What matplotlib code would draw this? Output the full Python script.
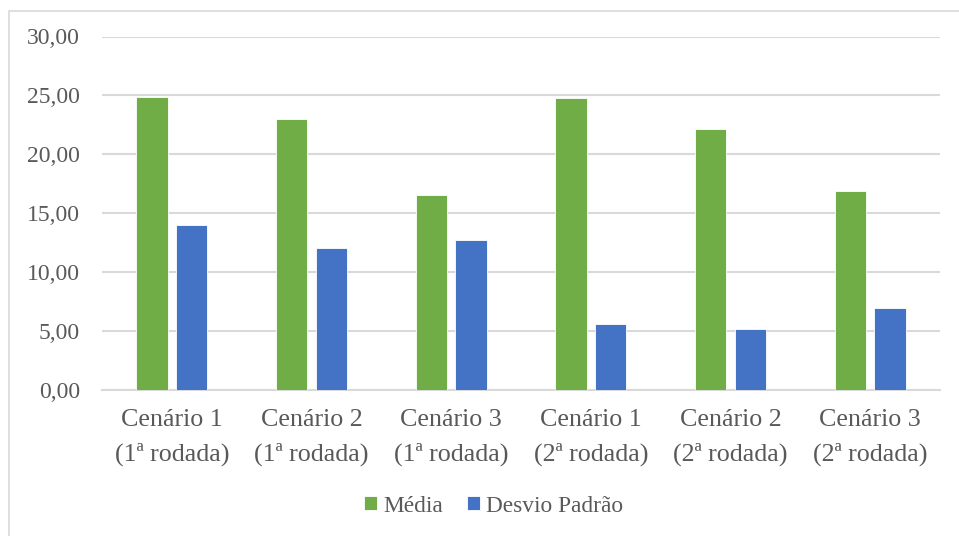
import matplotlib
matplotlib.use("Agg")
import matplotlib.pyplot as plt
from matplotlib.patches import Rectangle
import numpy as np

categories = ["Cenário 1\n(1ª rodada)", "Cenário 2\n(1ª rodada)", "Cenário 3\n(1ª rodada)",
              "Cenário 1\n(2ª rodada)", "Cenário 2\n(2ª rodada)", "Cenário 3\n(2ª rodada)"]
media = [24.87, 22.98, 16.55, 24.79, 22.15, 16.92]
desvio = [13.98, 12.08, 12.75, 5.60, 5.15, 6.96]
yticks = [0, 5, 10, 15, 20, 25, 30]
ytick_labels = ["0,00", "5,00", "10,00", "15,00", "20,00", "25,00", "30,00"]

plt.rcParams['font.family'] = 'serif'
plt.rcParams['font.serif'] = ['Liberation Serif', 'Times New Roman', 'DejaVu Serif']
text_color = "#595959"

fig = plt.figure(figsize=(9.59, 5.36), dpi=100)
# chart frame border
fig.patches.append(Rectangle((9/959, -0.1), 1.2, 1 - 11/536 + 0.1, transform=fig.transFigure,
                             fill=False, edgecolor="#d9d9d9", linewidth=1.2, zorder=0))

ax = fig.add_axes([102/959, 1 - 390/536, (940 - 102)/959, (390 - 36.5)/536])
x = np.arange(len(categories))
w = 0.222
off = 0.142
ax.bar(x - off, media, width=w, color="#70AD47", edgecolor="white", linewidth=0.6, label="Média", zorder=3)
ax.bar(x + off, desvio, width=w, color="#4472C4", edgecolor="white", linewidth=0.6, label="Desvio Padrão", zorder=3)

ax.set_xlim(-0.5, len(categories) - 0.5)
ax.set_ylim(0, 30)
ax.set_yticks(yticks)
ax.set_yticklabels(ytick_labels)
ax.set_xticks(x)
ax.set_xticklabels(categories, linespacing=1.6)
ax.tick_params(axis='both', length=0, colors=text_color)
ax.tick_params(axis='y', pad=16, labelsize=17)
ax.tick_params(axis='x', pad=14, labelsize=18.7)
ax.yaxis.grid(True, color="#d9d9d9", linewidth=1.5, zorder=0)
ax.set_axisbelow(True)
for s in ["top", "right", "left"]:
    ax.spines[s].set_visible(False)
ax.spines["bottom"].set_color("#d9d9d9")
ax.spines["bottom"].set_linewidth(1.5)

leg = fig.legend(loc="center", bbox_to_anchor=(493.5/959, 1 - 506/536), ncol=2, frameon=False,
                 fontsize=16.8, handlelength=0.57, handleheight=0.57, handletextpad=0.25, columnspacing=1.03)
for t in leg.get_texts():
    t.set_color(text_color)

fig.savefig("out.png", dpi=100)
